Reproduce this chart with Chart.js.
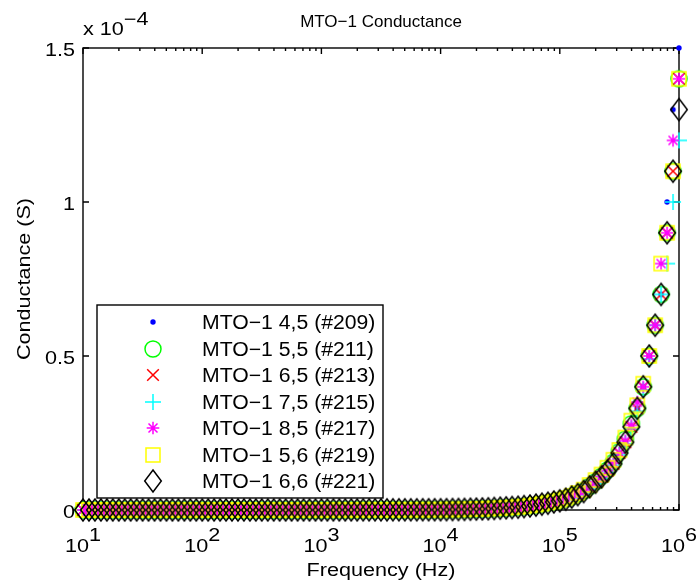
<!DOCTYPE html>
<html lang="en">
<head>
  <meta charset="UTF-8">
  <title>MTO-1 Conductance</title>
  <script src="https://cdn.jsdelivr.net/npm/chart.js"></script>
  <style>
    body { margin: 0; background: #fff; }
    #wrap { width: 696px; height: 584px; }
  </style>
</head>
<body>
<div id="wrap"><canvas id="chart" width="696" height="584"></canvas></div>
<script>
// sweep frequencies (Hz), 20 points per decade
const freqHz = [10, 11.22, 12.59, 14.13, 15.85, 17.78, 19.95, 22.39, 25.12, 28.18,
  31.62, 35.48, 39.81, 44.67, 50.12, 56.23, 63.10, 70.79, 79.43, 89.13,
  100, 112.2, 125.9, 141.3, 158.5, 177.8, 199.5, 223.9, 251.2, 281.8,
  316.2, 354.8, 398.1, 446.7, 501.2, 562.3, 631.0, 707.9, 794.3, 891.3,
  1000, 1122, 1259, 1413, 1585, 1778, 1995, 2239, 2512, 2818,
  3162, 3548, 3981, 4467, 5012, 5623, 6310, 7079, 7943, 8913,
  10000, 11220, 12590, 14130, 15850, 17780, 19950, 22390, 25120, 28180,
  31620, 35480, 39810, 44670, 50120, 56230, 63100, 70790, 79430, 89130,
  100000, 112200, 125900, 141300, 158500, 177800, 199500, 223900, 251200, 281800,
  316200, 354800, 398100, 446700, 501200, 562300, 631000, 707900, 794300, 891300,
  1000000];

// conductance in units of 1e-4 S
// 10 Hz .. 8.9 kHz : all samples sit on the floor
const lowBand = [0, 0, 0, 0, 0, 0, 0, 0, 0, 0,
  0, 0, 0, 0, 0, 0, 0, 0, 0, 0,
  0, 0, 0, 0, 0, 0, 0, 0, 0, 0,
  0, 0, 0, 0, 0, 0, 0, 0, 0, 0,
  0.0002, 0.0002, 0.0003, 0.0003, 0.0003, 0.0004, 0.0004, 0.0005, 0.0005, 0.0006,
  0.0006, 0.0006, 0.0007, 0.0007, 0.0008, 0.0008, 0.0008, 0.0009, 0.0009, 0.001];

// 10 kHz .. 1 MHz
const g209 = [0.001, 0.0012, 0.0014, 0.0017, 0.002, 0.0024, 0.0029, 0.0034, 0.004, 0.0048,
  0.0057, 0.0068, 0.0079, 0.0092, 0.011, 0.013, 0.0155, 0.0185, 0.022, 0.026,
  0.03, 0.035, 0.042, 0.05, 0.06, 0.074, 0.089, 0.106, 0.126, 0.15,
  0.18, 0.22, 0.27, 0.33, 0.4, 0.5, 0.6, 0.7, 1.0, 1.3,
  1.5];
const g211 = [0.001, 0.0012, 0.0015, 0.0018, 0.0021, 0.0025, 0.003, 0.0036, 0.0042, 0.005,
  0.006, 0.0071, 0.0083, 0.0096, 0.0115, 0.0136, 0.0162, 0.0192, 0.023, 0.027,
  0.031, 0.037, 0.044, 0.052, 0.062, 0.077, 0.092, 0.11, 0.13, 0.155,
  0.19, 0.23, 0.28, 0.33, 0.4, 0.5, 0.6, 0.7, 0.9, 1.1,
  1.4];
const g213 = [0.001, 0.0012, 0.0015, 0.0018, 0.002, 0.0025, 0.003, 0.0035, 0.004, 0.005,
  0.006, 0.007, 0.008, 0.0092, 0.011, 0.013, 0.016, 0.019, 0.022, 0.026,
  0.03, 0.035, 0.042, 0.05, 0.06, 0.075, 0.09, 0.107, 0.127, 0.15,
  0.185, 0.22, 0.27, 0.33, 0.4, 0.5, 0.6, 0.7, 0.9, 1.1,
  1.4];
const g215 = [0.0009, 0.0011, 0.0014, 0.0017, 0.0019, 0.0023, 0.0028, 0.0033, 0.0038, 0.0046,
  0.0055, 0.0065, 0.0076, 0.0088, 0.0105, 0.0125, 0.015, 0.018, 0.021, 0.025,
  0.029, 0.034, 0.04, 0.048, 0.058, 0.072, 0.087, 0.103, 0.122, 0.145,
  0.18, 0.215, 0.265, 0.32, 0.39, 0.49, 0.6, 0.7, 0.8, 1.0,
  1.2];
const g217 = [0.001, 0.0012, 0.0015, 0.0018, 0.002, 0.0025, 0.003, 0.0035, 0.0041, 0.005,
  0.006, 0.007, 0.0081, 0.0094, 0.0112, 0.0132, 0.016, 0.019, 0.0225, 0.0265,
  0.031, 0.036, 0.043, 0.051, 0.061, 0.076, 0.091, 0.108, 0.128, 0.152,
  0.185, 0.225, 0.275, 0.35, 0.4, 0.5, 0.6, 0.8, 0.9, 1.2,
  1.4];
const g219 = [0.0011, 0.0013, 0.0016, 0.0019, 0.0022, 0.0027, 0.0032, 0.0038, 0.0045, 0.0053,
  0.0063, 0.0075, 0.0087, 0.01, 0.012, 0.0142, 0.017, 0.02, 0.024, 0.028,
  0.033, 0.039, 0.046, 0.055, 0.066, 0.081, 0.097, 0.115, 0.137, 0.163,
  0.195, 0.235, 0.29, 0.34, 0.41, 0.5, 0.6, 0.8, 0.9, 1.1,
  1.4];
const g221 = [0.001, 0.0012, 0.0015, 0.0018, 0.002, 0.0025, 0.003, 0.0035, 0.004, 0.005,
  0.006, 0.007, 0.008, 0.009, 0.011, 0.013, 0.016, 0.019, 0.022, 0.026,
  0.03, 0.035, 0.042, 0.05, 0.06, 0.075, 0.09, 0.107, 0.127, 0.15,
  0.185, 0.22, 0.27, 0.33, 0.4, 0.5, 0.6, 0.7, 0.9, 1.1,
  1.3];

const seriesLabels = ['MTO\u22121 4,5 (#209)', 'MTO\u22121 5,5 (#211)', 'MTO\u22121 6,5 (#213)',
  'MTO\u22121 7,5 (#215)', 'MTO\u22121 8,5 (#217)', 'MTO\u22121 5,6 (#219)', 'MTO\u22121 6,6 (#221)'];
const seriesValues = [g209, g211, g213, g215, g217, g219, g221];
const seriesColors = ['#0000ff', '#00ff00', '#ff0000', '#00ffff', '#ff00ff', '#ffff00', '#000000'];
const seriesMarkers = ['dot', 'circle', 'x', 'plus', 'asterisk', 'square', 'diamond'];

const xTickValues = [10, 100, 1000, 10000, 100000, 1000000];
const xTickExps = ['1', '2', '3', '4', '5', '6'];
const yTickValues = [0, 0.5, 1, 1.5];
const yTickLabels = ['0', '0.5', '1', '1.5'];

const FONT = '"Liberation Sans", Arial, Helvetica, sans-serif';
const FONT_PX = 18;
const STRETCH = 1.2;   // matlab's helvetica runs wider than arial

// matlab-ish marker sprites, used for plot and legend alike
function makeMarker(kind, color) {
  const c = document.createElement('canvas');
  c.width = 26; c.height = 26;
  const g = c.getContext('2d');
  g.translate(13, 13);
  g.strokeStyle = color;
  g.fillStyle = color;
  g.lineWidth = 1.5;
  g.beginPath();
  switch (kind) {
    case 'dot':
      g.arc(0, 0, 2.7, 0, Math.PI * 2);
      g.fill();
      return c;
    case 'circle':
      g.arc(0, 0, 8, 0, Math.PI * 2);
      break;
    case 'x':
      g.moveTo(-5.8, -5.8); g.lineTo(5.8, 5.8);
      g.moveTo(5.8, -5.8); g.lineTo(-5.8, 5.8);
      break;
    case 'plus':
      g.moveTo(-8, 0); g.lineTo(8, 0);
      g.moveTo(0, -8); g.lineTo(0, 8);
      break;
    case 'asterisk':
      g.moveTo(-6.3, 0); g.lineTo(6.3, 0);
      g.moveTo(0, -6.3); g.lineTo(0, 6.3);
      g.moveTo(-4.5, -4.5); g.lineTo(4.5, 4.5);
      g.moveTo(4.5, -4.5); g.lineTo(-4.5, 4.5);
      break;
    case 'square':
      g.rect(-7, -7, 14, 14);
      break;
    case 'diamond':
      g.moveTo(0, -11); g.lineTo(8.3, 0); g.lineTo(0, 11); g.lineTo(-8.3, 0);
      g.closePath();
      break;
  }
  g.stroke();
  return c;
}

const sprites = seriesMarkers.map((m, i) => makeMarker(m, seriesColors[i]));

function wideText(ctx, str, x, y, align, stretch) {
  ctx.save();
  ctx.translate(x, y);
  ctx.scale(stretch || STRETCH, 1);
  ctx.textAlign = align || 'left';
  ctx.fillText(str, 0, 0);
  ctx.restore();
}
function wideWidth(ctx, str) {
  return ctx.measureText(str).width * STRETCH;
}

const matlabAxes = {
  id: 'matlabAxes',
  beforeDatasetsDraw(chart) {
    const { ctx, chartArea: a, scales: { x, y } } = chart;
    ctx.save();
    ctx.strokeStyle = '#000';
    ctx.lineWidth = 1.4;
    ctx.strokeRect(a.left, a.top, a.right - a.left, a.bottom - a.top);

    ctx.beginPath();
    // y ticks, both sides, pointing in
    yTickValues.forEach(v => {
      const py = y.getPixelForValue(v);
      ctx.moveTo(a.left, py); ctx.lineTo(a.left + 6, py);
      ctx.moveTo(a.right, py); ctx.lineTo(a.right - 6, py);
    });
    // x decades + minor log ticks, top and bottom
    xTickValues.forEach((v, i) => {
      const px = x.getPixelForValue(v);
      ctx.moveTo(px, a.bottom); ctx.lineTo(px, a.bottom - 6);
      ctx.moveTo(px, a.top); ctx.lineTo(px, a.top + 6);
      if (i === xTickValues.length - 1) return;
      for (let m = 2; m <= 9; m++) {
        const mx = x.getPixelForValue(v * m);
        ctx.moveTo(mx, a.bottom); ctx.lineTo(mx, a.bottom - 3);
        ctx.moveTo(mx, a.top); ctx.lineTo(mx, a.top + 3);
      }
    });
    ctx.stroke();

    ctx.fillStyle = '#000';
    ctx.font = FONT_PX + 'px ' + FONT;
    ctx.textBaseline = 'alphabetic';

    yTickValues.forEach((v, i) => {
      wideText(ctx, yTickLabels[i], a.left - 8, y.getPixelForValue(v) + 8, 'right');
    });

    xTickValues.forEach((v, i) => {
      const px = x.getPixelForValue(v);
      const wb = wideWidth(ctx, '10');
      const we = wideWidth(ctx, xTickExps[i]);
      const start = px - (wb + we) / 2;
      wideText(ctx, '10', start, a.bottom + 42);
      wideText(ctx, xTickExps[i], start + wb, a.bottom + 31);
    });

    // exponent note above the y axis
    const wx = wideWidth(ctx, 'x 10');
    wideText(ctx, 'x 10', a.left, a.top - 13);
    wideText(ctx, '\u22124', a.left + wx, a.top - 23);

    const cx = (a.left + a.right) / 2;
    wideText(ctx, 'Frequency (Hz)', cx, 576, 'center');

    ctx.save();
    ctx.translate(30, (a.top + a.bottom) / 2);
    ctx.rotate(-Math.PI / 2);
    wideText(ctx, 'Conductance (S)', 0, 0, 'center');
    ctx.restore();

    ctx.font = '17px ' + FONT;
    wideText(ctx, 'MTO\u22121 Conductance', cx, 27, 'center', 1.0);

    ctx.restore();
  },
  afterDatasetsDraw(chart) {
    const { ctx } = chart;
    ctx.save();
    ctx.fillStyle = '#fff';
    ctx.fillRect(97, 305, 286, 193);
    ctx.strokeStyle = '#000';
    ctx.lineWidth = 1.4;
    ctx.strokeRect(97, 305, 286, 193);
    ctx.fillStyle = '#000';
    ctx.font = '20px ' + FONT;
    seriesLabels.forEach((lbl, i) => {
      const ry = 322 + i * 26.5;
      ctx.drawImage(sprites[i], 153 - 13, Math.round(ry) - 13);
      wideText(ctx, lbl, 202, ry + 7, 'left', 1.06);
    });
    ctx.restore();
  }
};

const datasets = seriesValues.map((tail, i) => {
  const vals = lowBand.concat(tail);
  return {
    label: seriesLabels[i],
    data: freqHz.map((f, k) => ({ x: f, y: vals[k] })),
    showLine: false,
    pointStyle: sprites[i],
    pointRadius: 8,
    pointHoverRadius: 8,
    clip: false,
    order: -i   // later series drawn on top, like matlab's hold on
  };
});

new Chart(document.getElementById('chart'), {
  type: 'scatter',
  data: { datasets },
  options: {
    responsive: false,
    animation: false,
    devicePixelRatio: 1,
    events: [],
    layout: { padding: { left: 0, top: 48, right: 17, bottom: 0 } },
    plugins: {
      legend: { display: false },
      tooltip: { enabled: false },
      title: { display: false }
    },
    scales: {
      x: {
        type: 'logarithmic',
        min: 10,
        max: 1000000,
        grid: { display: false },
        border: { display: false },
        ticks: { display: false },
        afterFit: s => { s.height = 74; }
      },
      y: {
        type: 'linear',
        min: 0,
        max: 1.5,
        grid: { display: false },
        border: { display: false },
        ticks: { display: false },
        afterFit: s => { s.width = 83; }
      }
    }
  },
  plugins: [matlabAxes]
});
</script>
</body>
</html>
